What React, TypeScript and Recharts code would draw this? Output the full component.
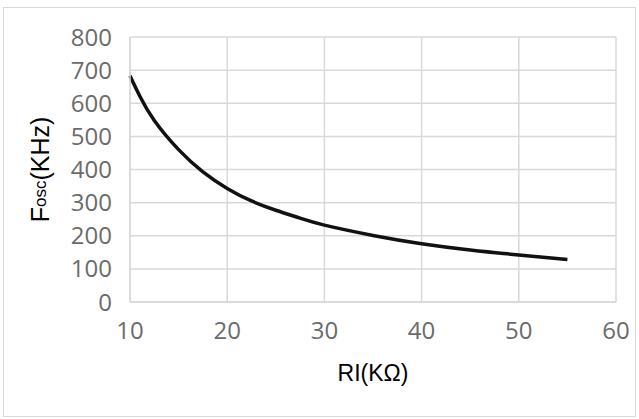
import React from 'react';
import { LineChart, Line, XAxis, YAxis, CartesianGrid } from 'recharts';

const resistanceK = [10, 11, 12.5, 15, 17.5, 20, 22.5, 25, 27.5, 30, 35, 40, 45, 50, 55];
const freqKHz = [683, 622, 548, 460, 393, 343, 305, 277, 253, 232, 201, 176, 157, 142, 128];
const xTicks = [10, 20, 30, 40, 50, 60];
const yTicks = [0, 100, 200, 300, 400, 500, 600, 700, 800];

const data = resistanceK.map((r, i) => ({ r, f: freqKHz[i] }));

const tickStyle = { fontFamily: '"Open Sans", sans-serif', fontSize: 24, fill: '#6b6b6b' };

const YLabel = (props: any) => {
  const vb = props.viewBox || {};
  const cx = (vb.x ?? 0) + 40;
  const cy = (vb.y ?? 0) + (vb.height ?? 0) / 2;
  return (
    <text
      x={cx}
      y={cy}
      transform={`rotate(-90 ${cx} ${cy})`}
      textAnchor="middle"
      dominantBaseline="central"
      fontFamily="Arial, 'Liberation Sans', sans-serif"
      fontSize={25}
      fill="#000"
    >
      <tspan>F</tspan>
      <tspan fontSize={17}>osc</tspan>
      <tspan>(KHz)</tspan>
    </text>
  );
};

const XLabel = (props: any) => {
  const vb = props.viewBox || {};
  const cx = (vb.x ?? 0) + (vb.width ?? 0) / 2;
  const cy = (vb.y ?? 0) + 71;
  return (
    <text
      x={cx}
      y={cy}
      textAnchor="middle"
      dominantBaseline="central"
      fontFamily="Arial, 'Liberation Sans', sans-serif"
      fontSize={23}
      fill="#000"
    >
      RI(KΩ)
    </text>
  );
};

export default function App() {
  return (
    <div style={{ position: 'absolute', left: 0, top: 0, width: 639, height: 419, background: '#fff' }}>
      <div
        style={{
          position: 'absolute',
          left: 3,
          top: 7,
          width: 633,
          height: 410,
          border: '1.5px solid #d9d9d9',
          boxSizing: 'border-box',
        }}
      />
      <LineChart
        width={639}
        height={419}
        data={data}
        margin={{ top: 37, right: 23, bottom: 0, left: 0 }}
        style={{ position: 'absolute', left: 0, top: 0 }}
      >
        <CartesianGrid stroke="#d9d9d9" strokeWidth={1.5} />
        <XAxis
          dataKey="r"
          type="number"
          domain={[10, 60]}
          ticks={xTicks}
          height={117}
          tickSize={0}
          tickMargin={20}
          axisLine={{ stroke: '#d9d9d9', strokeWidth: 1.5 }}
          tickLine={false}
          tick={tickStyle}
          interval={0}
          label={<XLabel />}
        />
        <YAxis
          type="number"
          domain={[0, 800]}
          ticks={yTicks}
          width={130}
          tickSize={0}
          tickMargin={18}
          axisLine={{ stroke: '#d9d9d9', strokeWidth: 1.5 }}
          tickLine={false}
          tick={tickStyle}
          interval={0}
          label={<YLabel />}
        />
        <Line
          type="natural"
          dataKey="f"
          stroke="#111"
          strokeWidth={3.5}
          dot={false}
          isAnimationActive={false}
        />
      </LineChart>
    </div>
  );
}
